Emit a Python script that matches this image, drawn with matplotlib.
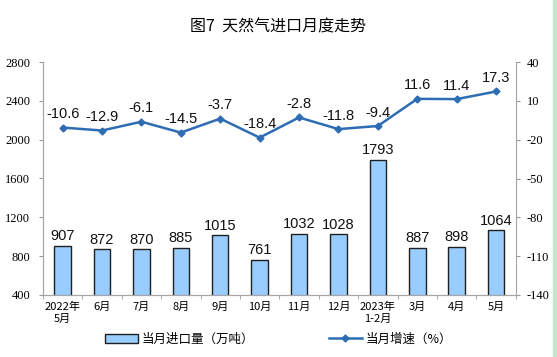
import numpy as np
import matplotlib.pyplot as plt
from matplotlib.patches import Rectangle

plt.rcParams['font.family'] = ['Noto Sans CJK SC', 'DejaVu Sans']

# data
months = ['2022年\n5月', '6月', '7月', '8月', '9月', '10月', '11月', '12月',
          '2023年\n1-2月', '3月', '4月', '5月']
imports = [907, 872, 870, 885, 1015, 761, 1032, 1028, 1793, 887, 898, 1064]
growth = [-10.6, -12.9, -6.1, -14.5, -3.7, -18.4, -2.8, -11.8, -9.4, 11.6, 11.4, 17.3]
left_ticks = [400, 800, 1200, 1600, 2000, 2400, 2800]
right_ticks = [-140, -110, -80, -50, -20, 10, 40]

bar_color = '#99CCFF'
line_color = '#2E6DB4'
num_font = 'Liberation Serif'
lab_font = 'Liberation Sans'

fig = plt.figure(figsize=(5.57, 3.57), dpi=100)
ax = fig.add_axes([0.077, 0.174, 0.849, 0.652])
ax2 = ax.twinx()

x = np.arange(len(months))
bars = ax.bar(x, imports, width=0.42, color=bar_color, edgecolor='#1F1F1F',
              linewidth=1.0, label='当月进口量（万吨）', zorder=2)
for xi, v in zip(x, imports):
    ax.text(xi, v + 25, str(v), ha='center', va='bottom', fontsize=10.5,
            family=lab_font, color='#111111')

ax.set_xlim(-0.5, len(months) - 0.5)
ax.set_ylim(400, 2800)
ax.set_yticks(left_ticks)
ax.set_yticklabels([str(t) for t in left_ticks], family=num_font, fontsize=9)
ax.set_xticks(x)
ax.set_xticklabels(months, fontsize=8, linespacing=1.2)
ax.set_xticks(np.arange(len(months) + 1) - 0.5, minor=True)
ax.tick_params(axis='x', which='major', length=0, pad=5)
ax.tick_params(axis='x', which='minor', length=3, direction='out', color='#999999')
ax.tick_params(axis='y', length=3, color='#999999', pad=6)

line, = ax2.plot(x, growth, color=line_color, linewidth=1.8, marker='D',
                 markersize=3.5, label='当月增速（%）', zorder=3)
for xi, v in zip(x, growth):
    ax2.text(xi, v + 5, f'{v:.1f}', ha='center', va='bottom', fontsize=10.5,
             family=lab_font, color='#111111')
ax2.set_ylim(-140, 40)
ax2.set_yticks(right_ticks)
ax2.set_yticklabels([str(t) for t in right_ticks], family=num_font, fontsize=9)
ax2.tick_params(axis='y', length=3, color='#999999', pad=5)

for a in (ax, ax2):
    for s in a.spines.values():
        s.set_color('#A6A6A6')
        s.set_linewidth(0.8)
    a.spines['top'].set_visible(False)
ax.spines['right'].set_visible(False)

fig.text(0.5, 0.925, '图7  天然气进口月度走势', ha='center', va='center',
         fontsize=11.5)

fig.legend(handles=[bars, line], loc='center', bbox_to_anchor=(0.5, 0.05),
           ncol=2, frameon=False, fontsize=9, handlelength=2.6,
           columnspacing=6, handletextpad=0.3)

# green border strip of the screenshot
fig.patches.append(Rectangle((0.992, 0), 0.008, 1, transform=fig.transFigure,
                             color='#C5E7C9', zorder=0))

fig.savefig('out.png', dpi=100)
